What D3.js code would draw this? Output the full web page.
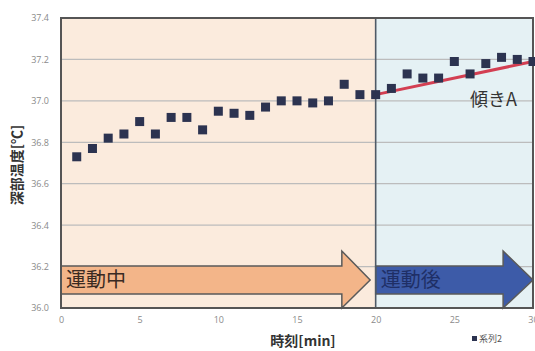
<!DOCTYPE html>
<html><head><meta charset="utf-8">
<script src="https://cdn.jsdelivr.net/npm/d3@7"></script>
<style>body{margin:0;background:#fff}svg{display:block}</style>
</head><body>
<svg id="c" width="535" height="351"></svg>
<script>
const minutes = [1,2,3,4,5,6,7,8,9,10,11,12,13,14,15,16,17,18,19,20,21,22,23,24,25,26,27,28,29,30];
const temps = [36.73,36.77,36.82,36.84,36.90,36.84,36.92,36.92,36.86,36.95,36.94,36.93,36.97,37.00,37.00,36.99,37.00,37.08,37.03,37.03,37.06,37.13,37.11,37.11,37.19,37.13,37.18,37.21,37.20,37.19];
const trendX = [20,30];
const trendY = [37.03,37.19];
const xTicks = [0,5,10,15,20,25,30];
const yTicks = [36.0,36.2,36.4,36.6,36.8,37.0,37.2,37.4];
const phases = [{label:"運動中", from:0, to:20}, {label:"運動後", from:20, to:30}];

const svg = d3.select("#c");
const x = d3.scaleLinear().domain([0,30]).range([61,533]);
const y = d3.scaleLinear().domain([36.0,37.4]).range([308,18]);

// phase backgrounds
const bg = ["#fbebdd","#e5f1f4"];
svg.selectAll("rect.bg").data(phases).join("rect")
  .attr("x", d=>x(d.from)).attr("width", d=>x(d.to)-x(d.from))
  .attr("y", y(37.4)).attr("height", y(36.0)-y(37.4))
  .attr("fill", (d,i)=>bg[i]);

// grid
svg.selectAll("line.grid").data(yTicks.slice(1,-1)).join("line")
  .attr("x1", x(0)).attr("x2", x(30)).attr("y1", d=>y(d)).attr("y2", d=>y(d))
  .attr("stroke","#bcbcbc").attr("stroke-width",1.2);

// arrows
const arrowDefs = [
  {from:0, to:19.65, head:17.85, fill:"#f3b589", text:"#3a2a22", label:"運動中"},
  {from:20, to:30, head:28.1, fill:"#3d5ba8", text:"#1f2f66", label:"運動後"}
];
const bTop=36.203, bBot=36.068, hTop=36.275, hBot=36.0, tipY=36.135;
svg.selectAll("path.arrow").data(arrowDefs).join("path")
  .attr("d", d=>`M${x(d.from)},${y(bTop)}L${x(d.head)},${y(bTop)}L${x(d.head)},${y(hTop)}L${x(d.to)},${y(tipY)}L${x(d.head)},${y(hBot)}L${x(d.head)},${y(bBot)}L${x(d.from)},${y(bBot)}Z`)
  .attr("fill", d=>d.fill).attr("stroke","#5a5a5a").attr("stroke-width",1.5);
svg.selectAll("text.alabel").data(arrowDefs).join("text")
  .attr("x", d=>x(d.from)+5).attr("y", y(tipY)+7)
  .attr("font-family","'Noto Sans CJK JP'").attr("font-size",20)
  .attr("fill", d=>d.text).text(d=>d.label);

// divider
svg.append("line").attr("x1",x(20)).attr("x2",x(20)).attr("y1",y(37.4)).attr("y2",y(36.0))
  .attr("stroke","#4f5a66").attr("stroke-width",1.6);

// plot border
svg.append("rect").attr("x",x(0)).attr("y",y(37.4)).attr("width",x(30)-x(0)).attr("height",y(36)-y(37.4))
  .attr("fill","none").attr("stroke","#555").attr("stroke-width",2);

// trend line
svg.append("line").attr("x1",x(trendX[0])).attr("y1",y(trendY[0])).attr("x2",x(trendX[1])).attr("y2",y(trendY[1]))
  .attr("stroke","#d33f52").attr("stroke-width",3);

// markers
svg.selectAll("rect.pt").data(minutes).join("rect")
  .attr("x",(d)=>x(d)-4.5).attr("y",(d,i)=>y(temps[i])-4.5)
  .attr("width",9).attr("height",9).attr("fill","#2c3350");

// axes
const xa = svg.append("g").attr("transform",`translate(0,${y(36)+6})`)
  .call(d3.axisBottom(x).tickValues(xTicks).tickSize(0).tickFormat(d3.format("d")));
const ya = svg.append("g").attr("transform",`translate(${x(0)-9},0)`)
  .call(d3.axisLeft(y).tickValues(yTicks).tickSize(0).tickFormat(d3.format(".1f")));
[xa,ya].forEach(g=>{g.select(".domain").remove();
  g.selectAll("text").attr("fill","#8a8a8a").attr("font-size",9).attr("font-family","'Open Sans'");});

// labels
svg.append("text").attr("x",470).attr("y",y(37.0)+5).attr("font-family","'Noto Sans CJK JP'")
  .attr("font-size",18).attr("fill","#333").text("傾きA");
svg.append("text").attr("transform",`translate(22,${165}) rotate(-90)`).attr("text-anchor","middle")
  .attr("font-family","'Noto Sans CJK JP'").attr("font-weight","bold").attr("font-size",14)
  .attr("fill","#333").text("深部温度[℃]");
svg.append("text").attr("x",303).attr("y",346).attr("text-anchor","middle")
  .attr("font-family","'Noto Sans CJK JP'").attr("font-weight","bold").attr("font-size",14)
  .attr("fill","#333").text("時刻[min]");
svg.append("rect").attr("x",472).attr("y",336).attr("width",5).attr("height",5).attr("fill","#2c3350");
svg.append("text").attr("x",479).attr("y",342).attr("font-family","'Noto Sans CJK JP'")
  .attr("font-size",9).attr("fill","#555").text("系列2");
</script>
</body></html>
